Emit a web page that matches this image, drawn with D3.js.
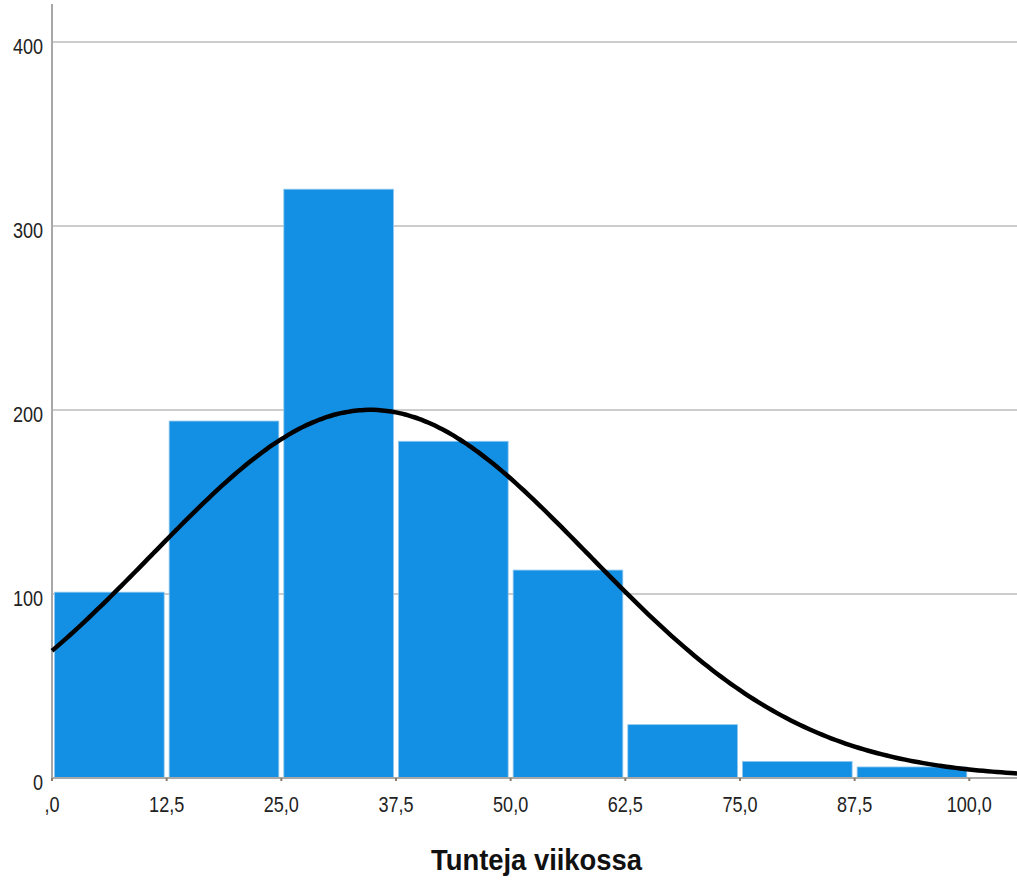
<!DOCTYPE html>
<html>
<head>
<meta charset="utf-8">
<script src="https://cdn.jsdelivr.net/npm/d3@7"></script>
<style>
  body { margin: 0; background: #fff; }
  svg { display: block; }
</style>
</head>
<body>
<script>
// histogram bins (hours per week) and counts
let binStarts = [0, 12.5, 25, 37.5, 50, 62.5, 75, 87.5];
let binWidth = 12.5;
let counts = [101, 194, 320, 183, 113, 29, 9, 6];
let xTicks = [0, 12.5, 25, 37.5, 50, 62.5, 75, 87.5, 100];
let yTicks = [0, 100, 200, 300, 400];
// fitted normal curve parameters
let curveMean = 34.7;
let curveSd = 23.8;
let curveN = 955;

let width = 1017, height = 885;
let plotLeft = 52, plotRight = 1017, plotTop = 4, plotBottom = 778;
let font = "'Liberation Sans', Arial, sans-serif";

let svg = d3.select("body").append("svg")
  .attr("width", width)
  .attr("height", height)

let x = d3.scaleLinear().domain([0, 105.2]).range([plotLeft, plotRight])
let y = d3.scaleLinear().domain([0, 400]).range([plotBottom, 42])

// squeeze labels to look like the narrow SPSS font
function narrow(sel) {
  sel.each(function () {
    let w = this.getComputedTextLength();
    d3.select(this).attr("textLength", w * 0.82).attr("lengthAdjust", "spacingAndGlyphs")
  })
}

// gridlines
svg.append("g")
  .selectAll("line")
  .data(yTicks.filter(d => d > 0))
  .enter()
  .append("line")
  .attr("x1", plotLeft)
  .attr("x2", plotRight)
  .attr("y1", d => y(d))
  .attr("y2", d => y(d))
  .style("stroke", "#cccccc")
  .style("stroke-width", 2)

// bars
svg.append("g")
  .selectAll("rect")
  .data(counts)
  .enter()
  .append("rect")
  .attr("x", (d, i) => x(binStarts[i]) + 2.5)
  .attr("width", (d, i) => x(binStarts[i] + binWidth) - x(binStarts[i]) - 5)
  .attr("y", d => y(d))
  .attr("height", d => y(0) - y(d))
  .style("fill", "#1390e4")
  .style("stroke", "#8fc8f0")
  .style("stroke-width", 0.8)

// axes lines
svg.append("line")
  .attr("x1", plotLeft).attr("x2", plotLeft)
  .attr("y1", plotTop).attr("y2", plotBottom + 1)
  .style("stroke", "#a8a8a8")
  .style("stroke-width", 2)
svg.append("line")
  .attr("x1", plotLeft).attr("x2", plotRight)
  .attr("y1", plotBottom).attr("y2", plotBottom)
  .style("stroke", "#a8a8a8")
  .style("stroke-width", 2)

// x tick marks at bin edges
svg.append("g")
  .selectAll("line")
  .data(xTicks)
  .enter()
  .append("line")
  .attr("x1", d => x(d)).attr("x2", d => x(d))
  .attr("y1", plotBottom).attr("y2", plotBottom + 3)
  .style("stroke", "#8a7a6a")
  .style("stroke-width", 2)

let fmt = d => (d === 0 ? ",0" : d3.format(".1f")(d).replace(".", ","))

svg.append("g")
  .selectAll("text")
  .data(xTicks)
  .enter()
  .append("text")
  .attr("x", d => x(d))
  .attr("y", plotBottom + 34)
  .attr("text-anchor", "middle")
  .attr("font-family", font)
  .attr("font-size", "22px")
  .attr("fill", "#222")
  .text(fmt)
  .call(narrow)

svg.append("g")
  .selectAll("text")
  .data(yTicks)
  .enter()
  .append("text")
  .attr("x", plotLeft - 9)
  .attr("y", d => y(d) + 12)
  .attr("text-anchor", "end")
  .attr("font-family", font)
  .attr("font-size", "22px")
  .attr("fill", "#222")
  .text(d => d)
  .call(narrow)

// normal curve
let normal = v => curveN * binWidth / (curveSd * Math.sqrt(2 * Math.PI)) *
  Math.exp(-Math.pow(v - curveMean, 2) / (2 * curveSd * curveSd))
let curvePts = d3.range(0, 105.2, 0.5).concat([105.2]).map(v => [v, normal(v)])

svg.append("path")
  .datum(curvePts)
  .attr("d", d3.line().x(d => x(d[0])).y(d => y(d[1])).curve(d3.curveBasis))
  .style("fill", "none")
  .style("stroke", "#000")
  .style("stroke-width", 4.5)

// axis title
svg.append("text")
  .attr("x", 536.5)
  .attr("y", 870)
  .attr("text-anchor", "middle")
  .attr("font-family", font)
  .attr("font-weight", "bold")
  .attr("font-size", "30px")
  .attr("fill", "#111")
  .attr("textLength", 211)
  .attr("lengthAdjust", "spacingAndGlyphs")
  .text("Tunteja viikossa")
</script>
</body>
</html>
